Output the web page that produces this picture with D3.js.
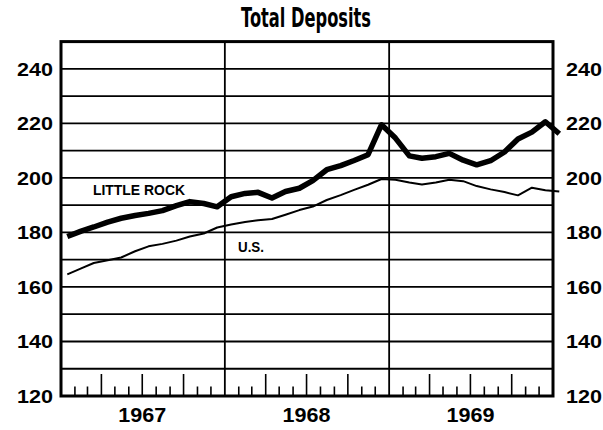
<!DOCTYPE html>
<html>
<head>
<meta charset="utf-8">
<script src="https://cdn.jsdelivr.net/npm/d3@7"></script>
<style>
html,body{margin:0;padding:0;background:#fff;}
svg{display:block;}
text{font-family:"Liberation Sans",Arial,sans-serif;fill:#000;}
</style>
</head>
<body>
<svg id="chart" width="603" height="430"></svg>
<script>
// ---- data ----
const months = d3.range(37).map(i => new Date(1967, i, 15)); // Jan 1967 .. Jan 1970 (mid-month)
const littleRock = [178.5,180.5,182,183.8,185.2,186.2,187,188,189.8,191.3,190.6,189.4,
                    193.1,194.3,194.7,192.6,195,196.2,199,203,204.5,206.4,208.5,219.5,
                    214.6,208.1,207.2,207.8,209,206.5,204.8,206.3,209.5,214.3,216.8,220.6,
                    216.2];
const us = [164.6,166.8,168.8,169.8,170.8,173.1,174.9,175.8,177,178.5,179.6,181.8,
            182.9,183.8,184.5,184.9,186.5,188.2,189.5,191.9,193.7,195.6,197.5,199.6,
            199.3,198.3,197.6,198.3,199.3,198.8,197,195.8,194.8,193.6,196.4,195.5,
            195];
const yearLabels = ["1967","1968","1969"];
const yTickLabels = [120,140,160,180,200,220,240];
const gridValues = [130,140,150,160,170,180,190,200,210,220,230,240];
const title = "Total Deposits";
const seriesLabels = ["LITTLE ROCK","U.S."];

// ---- layout ----
const L = 61, R = 553, T = 41.6, B = 396;
const svg = d3.select("#chart");
const x = d3.scaleTime().domain([new Date(1967,0,1), new Date(1970,0,1)]).range([L, R]);
const y = d3.scaleLinear().domain([120, 250]).range([B, T]);

// title
svg.append("text").attr("x", 306).attr("y", 27).attr("text-anchor","middle")
  .style("font-family","'DejaVu Sans',sans-serif").style("font-weight","bold").style("font-size","27px")
  .attr("textLength",130).attr("lengthAdjust","spacingAndGlyphs").text(title);

// horizontal gridlines
svg.append("g").selectAll("line").data(gridValues).join("line")
  .attr("x1", L).attr("x2", R).attr("y1", d => y(d)).attr("y2", d => y(d))
  .attr("stroke","#000").attr("stroke-width",1.8);

// year dividers
const yearBounds = [new Date(1968,0,1), new Date(1969,0,1)];
svg.append("g").selectAll("line").data(yearBounds).join("line")
  .attr("x1", d => x(d)).attr("x2", d => x(d)).attr("y1", T).attr("y2", B)
  .attr("stroke","#000").attr("stroke-width",1.8);

// month ticks
const monthTicks = d3.timeMonth.range(new Date(1967,1,1), new Date(1970,0,1))
  .filter(d => d.getMonth() !== 0);
svg.append("g").selectAll("line").data(monthTicks).join("line")
  .attr("x1", d => x(d)).attr("x2", d => x(d)).attr("y1", B)
  .attr("y2", d => d.getMonth() % 3 === 0 ? B - 22 : B - 9.5)
  .attr("stroke","#000").attr("stroke-width",1.6);

// border
svg.append("rect").attr("x", L).attr("y", T).attr("width", R - L).attr("height", B - T)
  .attr("fill","none").attr("stroke","#000").attr("stroke-width",3);

// y labels
const yl = svg.append("g").style("font-weight","bold").style("font-size","19px");
yl.selectAll("text.l").data(yTickLabels).join("text").attr("class","l")
  .attr("x", 53).attr("y", d => y(d) + 7).attr("text-anchor","end")
  .attr("textLength",36).attr("lengthAdjust","spacingAndGlyphs").text(d => d);
yl.selectAll("text.r").data(yTickLabels).join("text").attr("class","r")
  .attr("x", 566).attr("y", d => y(d) + 7).attr("text-anchor","start")
  .attr("textLength",36).attr("lengthAdjust","spacingAndGlyphs").text(d => d);

// year labels
svg.append("g").selectAll("text").data(yearLabels).join("text")
  .attr("x", d => x(new Date(+d, 6, 1)))
  .attr("y", 422).attr("text-anchor","middle")
  .style("font-weight","bold").style("font-size","21px")
  .attr("textLength",48).attr("lengthAdjust","spacingAndGlyphs").text(d => d);

// lines
const line = d3.line().x((d,i) => x(months[i])).y(d => y(d));
svg.append("path").datum(us).attr("d", line).attr("fill","none")
  .attr("stroke","#000").attr("stroke-width",2).attr("stroke-linejoin","round");
svg.append("path").datum(littleRock).attr("d", line).attr("fill","none")
  .attr("stroke","#000").attr("stroke-width",5.5).attr("stroke-linejoin","round").attr("stroke-linecap","butt");

// series labels
svg.append("text").attr("x", 93).attr("y", 195)
  .style("font-weight","bold").style("font-size","15px")
  .attr("textLength",92).attr("lengthAdjust","spacingAndGlyphs").text(seriesLabels[0]);
svg.append("text").attr("x", 238).attr("y", 252)
  .style("font-weight","bold").style("font-size","15px")
  .attr("textLength",26).attr("lengthAdjust","spacingAndGlyphs").text(seriesLabels[1]);
</script>
</body>
</html>
